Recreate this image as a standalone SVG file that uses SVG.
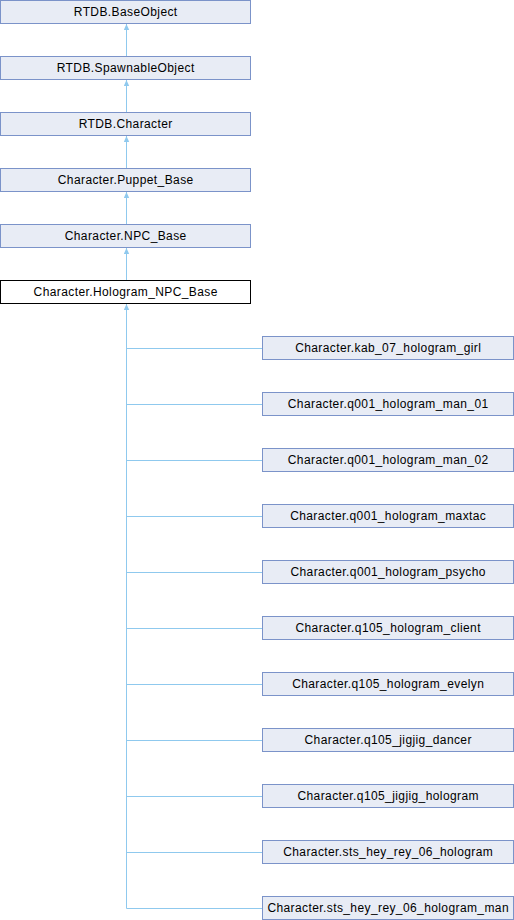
<svg xmlns="http://www.w3.org/2000/svg" width="514" height="920" viewBox="0 0 514 920">
<style>
.n rect{fill:#e8ecf5;stroke:#7b93c9;stroke-width:1}
.c rect{fill:#ffffff;stroke:#000000;stroke-width:1}
text{font-family:"Liberation Sans",Arial,sans-serif;font-size:12px;letter-spacing:0.4px;fill:#000;text-anchor:middle}
.e{stroke:#8fc9ee;stroke-width:1;fill:none}
</style>
<defs>
<marker id="a" markerWidth="7" markerHeight="7" refX="6" refY="3" orient="auto" markerUnits="userSpaceOnUse">
<path d="M6,3 L0,0.3 L0,5.7 Z" fill="#8fc9ee"/>
</marker>
</defs>
<rect width="514" height="920" fill="#ffffff"/>
<g id="edges">
<path class="e" d="M126.5,56.5 V24" marker-end="url(#a)"/>
<path class="e" d="M126.5,112.5 V80" marker-end="url(#a)"/>
<path class="e" d="M126.5,168.5 V136" marker-end="url(#a)"/>
<path class="e" d="M126.5,224.5 V192" marker-end="url(#a)"/>
<path class="e" d="M126.5,280.5 V248" marker-end="url(#a)"/>
<path class="e" d="M126.5,908.5 V304" marker-end="url(#a)"/>
<path class="e" d="M126.5,348.5 H262.5 M126.5,404.5 H262.5 M126.5,460.5 H262.5 M126.5,516.5 H262.5 M126.5,572.5 H262.5 M126.5,628.5 H262.5 M126.5,684.5 H262.5 M126.5,740.5 H262.5 M126.5,796.5 H262.5 M126.5,852.5 H262.5 M126.5,908.5 H262.5"/>
</g>
<g id="n1" class="n"><rect x="0.5" y="0.5" width="250" height="23"/><text x="125.7" y="16">RTDB.BaseObject</text></g>
<g id="n2" class="n"><rect x="0.5" y="56.5" width="250" height="23"/><text x="125.7" y="72">RTDB.SpawnableObject</text></g>
<g id="n3" class="n"><rect x="0.5" y="112.5" width="250" height="23"/><text x="125.7" y="128">RTDB.Character</text></g>
<g id="n4" class="n"><rect x="0.5" y="168.5" width="250" height="23"/><text x="125.7" y="184">Character.Puppet_Base</text></g>
<g id="n5" class="n"><rect x="0.5" y="224.5" width="250" height="23"/><text x="125.7" y="240">Character.NPC_Base</text></g>
<g id="n6" class="c"><rect x="0.5" y="280.5" width="250" height="23"/><text x="125.7" y="296">Character.Hologram_NPC_Base</text></g>
<g id="c1" class="n"><rect x="262.5" y="336.5" width="251" height="23"/><text x="388.2" y="352">Character.kab_07_hologram_girl</text></g>
<g id="c2" class="n"><rect x="262.5" y="392.5" width="251" height="23"/><text x="388.2" y="408">Character.q001_hologram_man_01</text></g>
<g id="c3" class="n"><rect x="262.5" y="448.5" width="251" height="23"/><text x="388.2" y="464">Character.q001_hologram_man_02</text></g>
<g id="c4" class="n"><rect x="262.5" y="504.5" width="251" height="23"/><text x="388.2" y="520">Character.q001_hologram_maxtac</text></g>
<g id="c5" class="n"><rect x="262.5" y="560.5" width="251" height="23"/><text x="388.2" y="576">Character.q001_hologram_psycho</text></g>
<g id="c6" class="n"><rect x="262.5" y="616.5" width="251" height="23"/><text x="388.2" y="632">Character.q105_hologram_client</text></g>
<g id="c7" class="n"><rect x="262.5" y="672.5" width="251" height="23"/><text x="388.2" y="688">Character.q105_hologram_evelyn</text></g>
<g id="c8" class="n"><rect x="262.5" y="728.5" width="251" height="23"/><text x="388.2" y="744">Character.q105_jigjig_dancer</text></g>
<g id="c9" class="n"><rect x="262.5" y="784.5" width="251" height="23"/><text x="388.2" y="800">Character.q105_jigjig_hologram</text></g>
<g id="c10" class="n"><rect x="262.5" y="840.5" width="251" height="23"/><text x="388.2" y="856">Character.sts_hey_rey_06_hologram</text></g>
<g id="c11" class="n"><rect x="262.5" y="896.5" width="251" height="23"/><text x="388.2" y="912">Character.sts_hey_rey_06_hologram_man</text></g>
</svg>
